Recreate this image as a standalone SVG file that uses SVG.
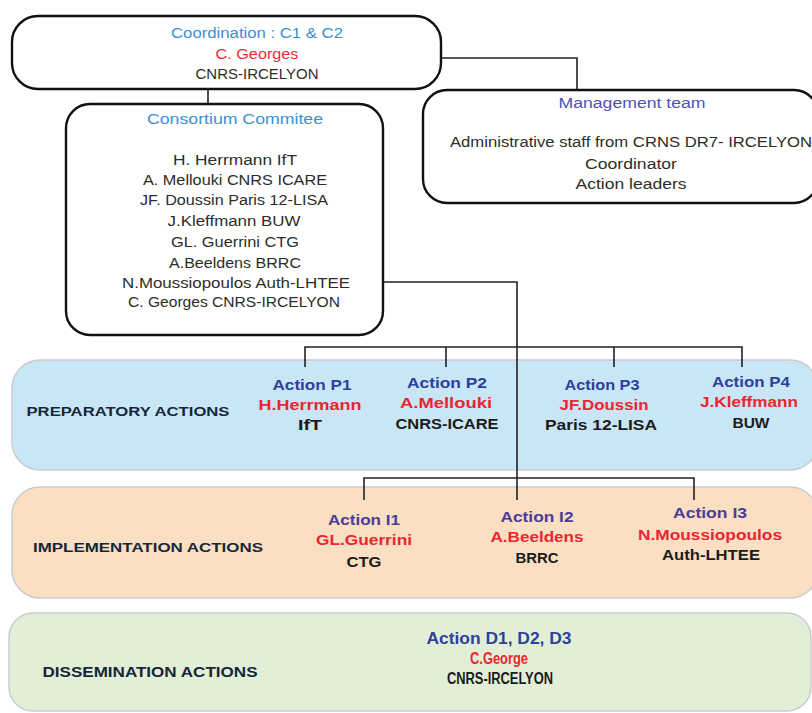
<svg xmlns="http://www.w3.org/2000/svg" width="812" height="713" viewBox="0 0 812 713">
<style>
.box{fill:#fff;stroke:#111;stroke-width:2.4}
.band{stroke:#c9cccf;stroke-width:1.5}
.con{fill:none;stroke:#222;stroke-width:1.6}
text{font-family:"Liberation Sans",Arial,sans-serif;text-anchor:middle}
.n{font-size:15.5px;fill:#2d2d28}
.hb{font-size:15.5px;fill:#3a90d4}
.r{font-size:15.5px;fill:#ee2a35}
.mt{font-size:15.5px;fill:#5050b8}
.lab{font-size:13.5px;font-weight:bold;fill:#15263a}
.ab{font-size:15px;font-weight:bold;fill:#2f3f9e}
.ai{font-size:15px;font-weight:bold;fill:#4b3c98}
.ar{font-size:15px;font-weight:bold;fill:#ec2530}
.ak{font-size:15px;font-weight:bold;fill:#1b1b1b}
.d{font-size:16px}
.dl{font-size:15px}
</style>
<rect width="812" height="713" fill="#fff"/>
<g id="band-dissemination"><rect class="band" x="9" y="613" width="802" height="98" rx="24" fill="#e2efd6"/></g>
<g id="band-implementation"><rect class="band" x="12" y="487" width="806" height="111" rx="28" fill="#fbdfc3"/></g>
<g id="band-preparatory"><rect class="band" x="12" y="360" width="806" height="110" rx="28" fill="#c8e6f5"/></g>
<g id="connectors">
<path class="con" d="M208 89 V104"/>
<path class="con" d="M441 58 H577 V90"/>
<path class="con" d="M383 282 H517 V500"/>
<path class="con" d="M305 367 V347 H742 V367"/>
<path class="con" d="M446 347 V367 M614 347 V367"/>
<path class="con" d="M364 500 V478 H694 V500"/>
</g>
<g id="coordination">
<rect class="box" x="12" y="16" width="429" height="73" rx="26"/>
<text class="hb" x="257" y="38" textLength="172" lengthAdjust="spacingAndGlyphs">Coordination : C1 &amp; C2</text>
<text class="r" x="257" y="59" textLength="83" lengthAdjust="spacingAndGlyphs">C. Georges</text>
<text class="n" x="257" y="79" textLength="123" lengthAdjust="spacingAndGlyphs">CNRS-IRCELYON</text>
</g>
<g id="management">
<rect class="box" x="423" y="90" width="395" height="113" rx="24"/>
<text class="mt" x="632" y="108" textLength="147" lengthAdjust="spacingAndGlyphs">Management team</text>
<text class="n" x="631" y="147" textLength="362" lengthAdjust="spacingAndGlyphs">Administrative staff from CRNS DR7- IRCELYON</text>
<text class="n" x="631" y="169" textLength="92" lengthAdjust="spacingAndGlyphs">Coordinator</text>
<text class="n" x="631" y="189" textLength="111" lengthAdjust="spacingAndGlyphs">Action leaders</text>
</g>
<g id="consortium">
<rect class="box" x="66" y="104" width="317" height="231" rx="24"/>
<text class="hb" x="235" y="124" textLength="176" lengthAdjust="spacingAndGlyphs">Consortium Commitee</text>
<text class="n" x="235" y="165" textLength="124" lengthAdjust="spacingAndGlyphs">H. Herrmann IfT</text>
<text class="n" x="235" y="185" textLength="184" lengthAdjust="spacingAndGlyphs">A. Mellouki CNRS ICARE</text>
<text class="n" x="234" y="205" textLength="188" lengthAdjust="spacingAndGlyphs">JF. Doussin Paris 12-LISA</text>
<text class="n" x="234" y="226" textLength="133" lengthAdjust="spacingAndGlyphs">J.Kleffmann BUW</text>
<text class="n" x="235" y="247" textLength="128" lengthAdjust="spacingAndGlyphs">GL. Guerrini CTG</text>
<text class="n" x="235" y="268" textLength="132" lengthAdjust="spacingAndGlyphs">A.Beeldens BRRC</text>
<text class="n" x="236" y="288" textLength="228" lengthAdjust="spacingAndGlyphs">N.Moussiopoulos Auth-LHTEE</text>
<text class="n" x="234" y="307" textLength="212" lengthAdjust="spacingAndGlyphs">C. Georges CNRS-IRCELYON</text>
</g>
<g id="prep-label"><text class="lab" x="128" y="416" textLength="203" lengthAdjust="spacingAndGlyphs">PREPARATORY  ACTIONS</text></g>
<g id="action-p1">
<text class="ab" x="312" y="390" textLength="79" lengthAdjust="spacingAndGlyphs">Action P1</text>
<text class="ar" x="310" y="410" textLength="103" lengthAdjust="spacingAndGlyphs">H.Herrmann</text>
<text class="ak" x="310" y="430" textLength="24" lengthAdjust="spacingAndGlyphs">IfT</text>
</g>
<g id="action-p2">
<text class="ab" x="447" y="388" textLength="80" lengthAdjust="spacingAndGlyphs">Action P2</text>
<text class="ar" x="446" y="408" textLength="92" lengthAdjust="spacingAndGlyphs">A.Mellouki</text>
<text class="ak" x="447" y="429" textLength="103" lengthAdjust="spacingAndGlyphs">CNRS-ICARE</text>
</g>
<g id="action-p3">
<text class="ab" x="602" y="390" textLength="75" lengthAdjust="spacingAndGlyphs">Action P3</text>
<text class="ar" x="604" y="410" textLength="89" lengthAdjust="spacingAndGlyphs">JF.Doussin</text>
<text class="ak" x="601" y="430" textLength="112" lengthAdjust="spacingAndGlyphs">Paris 12-LISA</text>
</g>
<g id="action-p4">
<text class="ab" x="751" y="387" textLength="78" lengthAdjust="spacingAndGlyphs">Action P4</text>
<text class="ar" x="749" y="407" textLength="98" lengthAdjust="spacingAndGlyphs">J.Kleffmann</text>
<text class="ak" x="751" y="428" textLength="37" lengthAdjust="spacingAndGlyphs">BUW</text>
</g>
<g id="impl-label"><text class="lab" x="148" y="552" textLength="230" lengthAdjust="spacingAndGlyphs">IMPLEMENTATION ACTIONS</text></g>
<g id="action-i1">
<text class="ai" x="364" y="525" textLength="72" lengthAdjust="spacingAndGlyphs">Action I1</text>
<text class="ar" x="364" y="545" textLength="96" lengthAdjust="spacingAndGlyphs">GL.Guerrini</text>
<text class="ak" x="364" y="567" textLength="35" lengthAdjust="spacingAndGlyphs">CTG</text>
</g>
<g id="action-i2">
<text class="ai" x="537" y="522" textLength="73" lengthAdjust="spacingAndGlyphs">Action I2</text>
<text class="ar" x="537" y="542" textLength="93" lengthAdjust="spacingAndGlyphs">A.Beeldens</text>
<text class="ak" x="537" y="563" textLength="43" lengthAdjust="spacingAndGlyphs">BRRC</text>
</g>
<g id="action-i3">
<text class="ai" x="710" y="518" textLength="74" lengthAdjust="spacingAndGlyphs">Action I3</text>
<text class="ar" x="710" y="540" textLength="144" lengthAdjust="spacingAndGlyphs">N.Moussiopoulos</text>
<text class="ak" x="711" y="560" textLength="98" lengthAdjust="spacingAndGlyphs">Auth-LHTEE</text>
</g>
<g id="diss-label"><text class="lab dl" x="150" y="677" textLength="215" lengthAdjust="spacingAndGlyphs">DISSEMINATION ACTIONS</text></g>
<g id="action-d">
<text class="ab d" x="499" y="644" textLength="145" lengthAdjust="spacingAndGlyphs">Action D1, D2, D3</text>
<text class="ar d" x="499" y="664" textLength="58" lengthAdjust="spacingAndGlyphs">C.George</text>
<text class="ak d" x="500" y="684" textLength="106" lengthAdjust="spacingAndGlyphs">CNRS-IRCELYON</text>
</g>
</svg>
